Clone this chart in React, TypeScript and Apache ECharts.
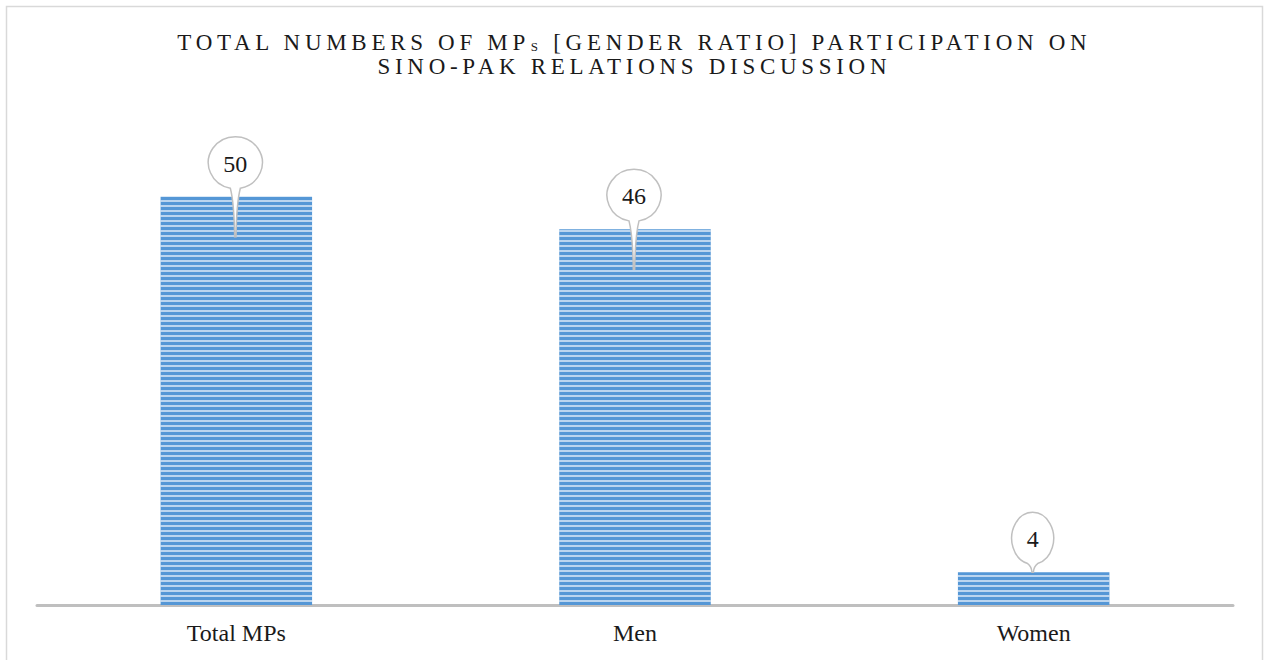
import React, { useEffect, useRef } from "react";
import * as echarts from "echarts";

const categories = ["Total MPs", "Men", "Women"];
const values = [50, 46, 4];
const titleLine1a = "TOTAL NUMBERS OF MP";
const titleSub = "S";
const titleLine1b = "[GENDER RATIO] PARTICIPATION ON";
const titleLine2 = "SINO-PAK RELATIONS DISCUSSION";

const SERIF = '"Liberation Serif", "Times New Roman", serif';
const LS = 4.7;
const TITLE_SIZE = 23;
const SUB_SIZE = 13;
const LABEL_SIZE = 24;

const measureCtx = document.createElement("canvas").getContext("2d") as CanvasRenderingContext2D;
function textWidth(s: string, font: string, ls = 0) {
  measureCtx.font = font;
  return measureCtx.measureText(s).width + s.length * ls;
}

export default function App() {
  const ref = useRef<HTMLDivElement>(null);
  useEffect(() => {
    if (!ref.current) return;
    const chart = echarts.init(ref.current, undefined, { renderer: "svg" });

    const mainFont = `${TITLE_SIZE}px ${SERIF}`;
    const subFont = `${SUB_SIZE}px ${SERIF}`;
    const labelFont = `${LABEL_SIZE}px ${SERIF}`;
    const cxTitle = 632;
    const wA = textWidth(titleLine1a, mainFont, LS);
    const wS = textWidth(titleSub, subFont, LS);
    const wSp = textWidth(" ", mainFont, LS);
    const wB = textWidth(titleLine1b, mainFont, LS) - LS;
    const total1 = wA + wS + wSp + wB;
    const x1 = cxTitle - total1 / 2;
    const w2 = textWidth(titleLine2, mainFont, LS) - LS;
    const x2 = cxTitle - w2 / 2;

    const titleStyle = (text: string, size: number, lh: number) => ({
      text,
      fontSize: size,
      fontFamily: SERIF,
      lineHeight: lh,
      fill: "#1a1a1a",
      textAlign: "left",
      textVerticalAlign: "middle",
    });

    chart.setOption({
      animation: false,
      grid: { left: 37, right: 35, top: 115, bottom: 55 },
      xAxis: {
        type: "category",
        data: categories,
        axisLine: { lineStyle: { color: "#bfbfbf", width: 3 } },
        axisTick: { show: false },
        axisLabel: { fontSize: LABEL_SIZE, fontFamily: SERIF, color: "#1a1a1a", margin: 16 },
      },
      yAxis: {
        type: "value",
        min: 0,
        max: 60,
        show: false,
        splitLine: { show: false },
      },
      graphic: [
        {
          type: "rect",
          shape: { x: 6.5, y: 6.5, width: 1256, height: 700 },
          style: { fill: "none", stroke: "#d9d9d9", lineWidth: 1.5 },
          silent: true,
        },
        { type: "text", x: x1, y: 42.5, style: titleStyle(titleLine1a, TITLE_SIZE, 18) },
        { type: "text", x: x1 + wA, y: 46.5, style: titleStyle(titleSub, SUB_SIZE, 10) },
        { type: "text", x: x1 + wA + wS + wSp, y: 42.5, style: titleStyle(titleLine1b, TITLE_SIZE, 18) },
        { type: "text", x: x2, y: 66.8, style: titleStyle(titleLine2, TITLE_SIZE, 18) },
      ],
      series: [
        {
          type: "bar",
          data: values,
          barWidth: "38%",
          itemStyle: {
            color: "#5597d6",
            decal: {
              symbol: "rect",
              symbolSize: 1,
              color: "rgba(255,255,255,0.6)",
              dashArrayX: [1, 0],
              dashArrayY: [1.5, 2.5],
              rotation: 0,
            },
          },
          emphasis: { disabled: true },
          z: 2,
        },
        {
          type: "custom",
          coordinateSystem: "cartesian2d",
          data: values.map((v, i) => [i, v]),
          encode: { x: 0, y: 1 },
          clip: false,
          z: 5,
          silent: true,
          renderItem: (params: any, api: any) => {
            const idx = api.value(0);
            const v = api.value(1);
            const pt = api.coord([idx, v]);
            const x = pt[0];
            const y = pt[1];
            const label = String(v);
            const tw = textWidth(label, labelFont);
            const rx = tw / 2 + 15;
            const ry = 26;
            const cx = x - 1;
            const cy = y - 34;
            const w = 5;
            const y1 = cy + ry * Math.sqrt(1 - (w / rx) * (w / rx));
            const tip = y + (v > 10 ? 40 : 0);
            const mid = y1 + (tip - y1) * 0.3;
            const d =
              `M ${cx - w} ${y1} A ${rx} ${ry} 0 1 1 ${cx + w} ${y1} ` +
              `Q ${cx + 1.2} ${mid} ${cx + 0.7} ${tip} L ${cx - 0.7} ${tip} ` +
              `Q ${cx - 1.2} ${mid} ${cx - w} ${y1} Z`;
            return {
              type: "group",
              children: [
                {
                  type: "path",
                  shape: { pathData: d },
                  style: { fill: "#ffffff", stroke: "#c0c0c0", lineWidth: 1.5 },
                },
                {
                  type: "text",
                  x: cx,
                  y: cy + 1,
                  style: {
                    text: label,
                    fontSize: LABEL_SIZE,
                    fontFamily: SERIF,
                    fill: "#1a1a1a",
                    textAlign: "center",
                    textVerticalAlign: "middle",
                  },
                },
              ],
            };
          },
        },
      ],
    });

    const titleTexts = [titleLine1a, titleSub, titleLine1b, titleLine2];
    const applySpacing = () => {
      if (!ref.current) return;
      ref.current.querySelectorAll("text").forEach((t) => {
        if (titleTexts.includes((t.textContent || "").trim())) {
          t.setAttribute("letter-spacing", String(LS));
        }
      });
    };
    applySpacing();
    chart.on("finished", applySpacing);

    return () => {
      chart.dispose();
    };
  }, []);

  return (
    <div
      ref={ref}
      style={{ position: "absolute", left: 0, top: 0, width: 1268, height: 660, background: "#fff" }}
    />
  );
}
